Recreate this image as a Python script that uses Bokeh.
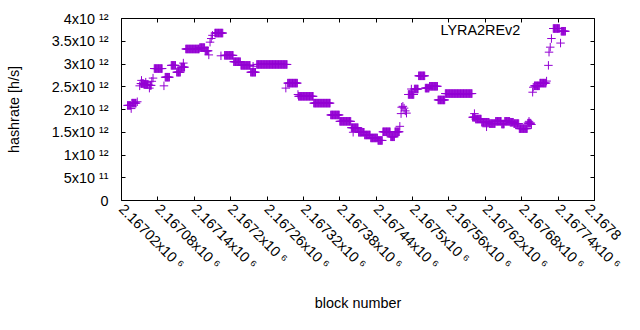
import math
import numpy as np
from bokeh.plotting import figure
from bokeh.models import FixedTicker, LinearAxis, Label, Range1d, ColumnDataSource
from bokeh.embed import file_html
from bokeh.resources import INLINE

# ---- data: runs of consecutive blocks sharing one hashrate (units of 1e12 h/s) ----
run_start = [2167030, 2167036, 2167037, 2167046,
             2167050, 2167052, 2167053, 2167057, 2167060, 2167066, 2167067, 2167070, 2167072,
             2167074, 2167090, 2167092, 2167102, 2167111, 2167118, 2167122,
             2167126, 2167149, 2167158, 2167164, 2167166, 2167168, 2167170,
             2167174, 2167184, 2167190, 2167205, 2167217, 2167233, 2167237,
             2167243, 2167291, 2167294, 2167311, 2167312, 2167337, 2167365,
             2167380, 2167399, 2167402, 2167411, 2167421, 2167431, 2167443,
             2167451, 2167464, 2167471, 2167479, 2167481, 2167482, 2167484,
             2167486, 2167488, 2167490, 2167493, 2167498, 2167503, 2167510,
             2167521, 2167528, 2167542, 2167554, 2167599, 2167602, 2167604,
             2167614, 2167622, 2167627, 2167637, 2167647, 2167652, 2167661,
             2167667, 2167676, 2167690, 2167692, 2167696, 2167698, 2167699,
             2167701, 2167710, 2167721, 2167724, 2167725, 2167727, 2167729,
             2167732, 2167744, 2167745]
run_end = [2167035, 2167036, 2167044, 2167046,
           2167050, 2167056, 2167053, 2167064, 2167060, 2167066, 2167069, 2167070, 2167072,
           2167087, 2167090, 2167099, 2167109, 2167117, 2167124, 2167122,
           2167148, 2167157, 2167163, 2167164, 2167166, 2167168, 2167170,
           2167187, 2167184, 2167204, 2167216, 2167232, 2167241, 2167237,
           2167293, 2167291, 2167310, 2167311, 2167336, 2167364, 2167379,
           2167398, 2167410, 2167402, 2167420, 2167430, 2167442, 2167450,
           2167463, 2167470, 2167478, 2167479, 2167481, 2167482, 2167484,
           2167486, 2167488, 2167490, 2167502, 2167498, 2167509, 2167520,
           2167527, 2167541, 2167553, 2167598, 2167603, 2167602, 2167613,
           2167626, 2167622, 2167636, 2167646, 2167651, 2167660, 2167666,
           2167675, 2167689, 2167695, 2167692, 2167696, 2167698, 2167699,
           2167709, 2167720, 2167721, 2167724, 2167725, 2167727, 2167729,
           2167742, 2167744, 2167752]
run_rate = [2.09, 2.02, 2.14, 2.17,
            2.52, 2.57, 2.64, 2.55, 2.60, 2.47, 2.53, 2.62, 2.69,
            2.90, 2.52, 2.71, 2.97, 2.82, 2.93, 3.02,
            3.33, 3.36, 3.29, 3.20, 3.48, 3.56, 3.63,
            3.68, 3.18, 3.19, 3.05, 2.97, 2.82, 2.95,
            2.99, 2.47, 2.58, 2.33, 2.29, 2.14, 1.88,
            1.74, 1.60, 1.50, 1.50, 1.44, 1.375, 1.32,
            1.51, 1.40, 1.51, 1.63, 1.91, 2.05, 2.07,
            2.03, 1.97, 1.92, 2.33, 2.45, 2.45, 2.74,
            2.47, 2.51, 2.21, 2.35, 1.83, 1.91, 1.79,
            1.72, 1.62, 1.69, 1.74, 1.68, 1.74, 1.72,
            1.69, 1.58, 1.70, 1.74, 1.67, 2.38, 2.49,
            2.52, 2.58, 2.625, 2.97, 3.26, 3.37, 3.56,
            3.78, 3.46, 3.72]

x_ticks = [2167020, 2167080, 2167140, 2167200, 2167260, 2167320, 2167380,
           2167440, 2167500, 2167560, 2167620, 2167680, 2167740, 2167800]
# the last label runs off the right edge in the original; only "2.1678" of it is visible
x_tick_labels = ["2.16702x10 \u2076", "2.16708x10 \u2076", "2.16714x10 \u2076", "2.1672x10 \u2076",
                 "2.16726x10 \u2076", "2.16732x10 \u2076", "2.16738x10 \u2076", "2.16744x10 \u2076",
                 "2.1675x10 \u2076", "2.16756x10 \u2076", "2.16762x10 \u2076", "2.16768x10 \u2076",
                 "2.16774x10 \u2076", "2.1678"]
y_ticks = [0.0, 5e11, 1e12, 1.5e12, 2e12, 2.5e12, 3e12, 3.5e12, 4e12]
y_tick_labels = ["0", "5x10 \u00b9\u00b9", "1x10 \u00b9\u00b2", "1.5x10 \u00b9\u00b2",
                 "2x10 \u00b9\u00b2", "2.5x10 \u00b9\u00b2", "3x10 \u00b9\u00b2",
                 "3.5x10 \u00b9\u00b2", "4x10 \u00b9\u00b2"]
series_name = "LYRA2REv2"
x_title = "block number"
y_title = "hashrate [h/s]"

blocks = np.concatenate([np.arange(s, e + 1) for s, e in zip(run_start, run_end)])
rates = np.concatenate([np.full(e - s + 1, r * 1e12) for s, e, r in zip(run_start, run_end, run_rate)])
src = ColumnDataSource(data=dict(block=blocks, rate=rates))

# ---- layout (reference is 640x330, figure is 624x314) ----
W, H = 624, 314
SX, SY = W / 640, H / 330
S = (SX + SY) / 2
FL, FR, FT, FB = round(124 * SX), round(609 * SX), round(19 * SY), round(211 * SY)

FONT = "Liberation Sans"
FS = f"{15 * S:.1f}px"
COLOR = "#9400d3"

p = figure(width=W, height=H, output_backend="svg", toolbar_location=None,
           x_range=Range1d(x_ticks[0], x_ticks[-1]), y_range=Range1d(y_ticks[0], y_ticks[-1]),
           min_border_left=FL, min_border_right=W - FR, min_border_top=FT, min_border_bottom=H - FB)
p.background_fill_color = "white"
p.border_fill_color = "white"
p.outline_line_color = "black"
p.outline_line_width = 1
p.grid.visible = False

p.scatter("block", "rate", source=src, marker="cross", size=8.5,
          line_color=COLOR, line_width=1)

p.add_layout(LinearAxis(), "above")
p.add_layout(LinearAxis(), "right")
for ax in p.axis:
    ax.major_tick_in = 4
    ax.major_tick_out = 0
    ax.minor_tick_line_color = None
    ax.axis_line_color = None
    ax.major_tick_line_color = "black"
    ax.major_label_text_font = FONT
    ax.major_label_text_font_size = FS
    ax.major_label_text_color = "black"
    ax.axis_label_text_font = FONT
    ax.axis_label_text_font_size = FS
    ax.axis_label_text_font_style = "normal"
    ax.axis_label_text_color = "black"

for ax in p.above + p.below:
    ax.ticker = FixedTicker(ticks=x_ticks)
for ax in p.left + p.right:
    ax.ticker = FixedTicker(ticks=y_ticks)

# mirrored axes: ticks only
for ax in p.above + p.right:
    ax.major_label_overrides = {t: "" for t in ax.ticker.ticks}
    ax.major_label_text_font_size = "1px"
    ax.major_label_standoff = 0

xa = p.below[0]
xa.major_label_overrides = dict(zip(x_ticks, x_tick_labels))
xa.major_label_orientation = -math.pi / 4
xa.major_label_standoff = 6
xa.axis_label = x_title
xa.axis_label_standoff = 14

ya = p.left[0]
ya.major_label_overrides = dict(zip(y_ticks, y_tick_labels))
ya.major_label_standoff = 13
ya.axis_label = y_title
ya.axis_label_standoff = 27

# key text (top right, inside the frame)
p.add_layout(Label(x=x_ticks[0], y=y_ticks[-1], text=series_name,
                   x_offset=533 * SX - FL, y_offset=-(31 * SY - FT),
                   text_align="right", text_baseline="middle",
                   text_font=FONT, text_font_size=FS, text_color="black"))

open("out.html", "w").write(file_html(p, INLINE))
